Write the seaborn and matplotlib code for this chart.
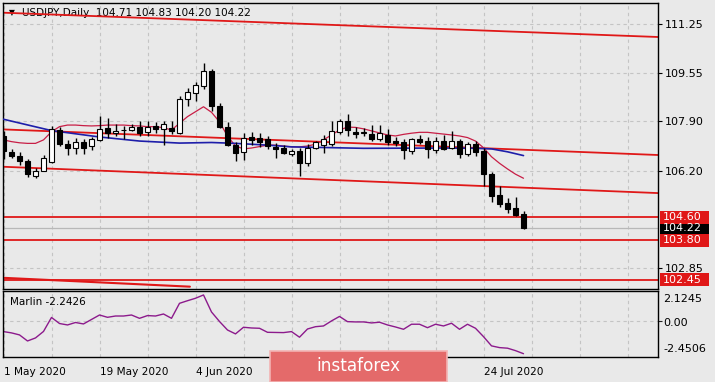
import numpy as np
import seaborn as sns
import matplotlib.pyplot as plt
import matplotlib.transforms as mtransforms
from matplotlib.patches import Rectangle

sns.set_style('white')
plt.rcParams['font.family'] = ['DejaVu Sans']

# daily USDJPY candles, 1 May 2020 .. 31 Jul 2020
opens = [107.40, 106.85, 106.70, 106.53, 106.01, 106.20, 106.50, 107.59, 107.13, 106.99,
         107.20, 107.05, 107.25, 107.68, 107.48, 107.59, 107.59, 107.71, 107.53, 107.74,
         107.63, 107.68, 107.51, 108.67, 108.88, 109.11, 109.62, 108.41, 107.72, 107.07,
         106.84, 107.36, 107.32, 107.28, 107.03, 106.99, 106.76, 106.875, 106.45, 106.99,
         107.07, 107.11, 107.53, 107.92, 107.53, 107.51, 107.455, 107.28, 107.42, 107.23,
         107.19, 106.875, 107.30, 107.22, 106.91, 107.22, 106.99, 107.22, 106.76, 107.11,
         106.88, 106.08, 105.36, 105.08, 104.91, 104.71]
highs = [107.57, 106.955, 106.85, 106.59, 106.295, 106.74, 107.74, 107.71, 107.26, 107.32,
         107.29, 107.36, 108.09, 108.03, 107.82, 107.74, 107.80, 107.92, 107.92, 107.88,
         107.92, 107.92, 108.78, 109.04, 109.25, 109.92, 109.71, 108.53, 107.86, 107.19,
         107.51, 107.53, 107.49, 107.40, 107.16, 107.07, 106.93, 106.99, 107.11, 107.23,
         107.42, 107.92, 107.98, 108.15, 107.72, 107.68, 107.77, 107.77, 107.65, 107.37,
         107.28, 107.34, 107.42, 107.37, 107.37, 107.42, 107.57, 107.28, 107.19, 107.22,
         106.97, 106.16, 105.68, 105.25, 105.30, 104.83]
lows = [106.60, 106.62, 106.39, 105.97, 105.95, 106.18, 106.47, 107.05, 106.73, 106.76,
        106.76, 106.90, 107.22, 107.34, 107.40, 107.28, 107.55, 107.40, 107.40, 107.49,
        107.07, 107.455, 107.455, 108.41, 108.61, 109.02, 108.26, 107.68, 107.05, 106.53,
        106.56, 107.07, 107.02, 106.93, 106.64, 106.76, 106.72, 106.03, 106.35, 106.93,
        106.82, 107.05, 107.455, 107.40, 107.34, 107.40, 107.22, 107.22, 107.07, 107.05,
        106.61, 106.76, 107.11, 106.64, 106.82, 106.91, 106.93, 106.64, 106.70, 106.70,
        105.68, 105.11, 104.96, 104.75, 104.64, 104.20]
closes = [106.875, 106.70, 106.55, 106.07, 106.20, 106.62, 107.63, 107.11, 106.99, 107.20,
          106.99, 107.29, 107.63, 107.51, 107.57, 107.60, 107.71, 107.51, 107.72, 107.65,
          107.80, 107.57, 108.67, 108.92, 109.16, 109.62, 108.41, 107.72, 107.07, 106.82,
          107.34, 107.26, 107.19, 107.05, 106.93, 106.82, 106.875, 106.47, 106.99, 107.19,
          107.28, 107.57, 107.92, 107.60, 107.455, 107.52, 107.28, 107.49, 107.19, 107.16,
          106.91, 107.28, 107.19, 106.93, 107.22, 106.955, 107.22, 106.76, 107.11, 106.84,
          106.08, 105.34, 105.04, 104.88, 104.67, 104.22]

# fast moving average (thin red)
ma_fast = [107.26, 107.20, 107.16, 107.14, 107.14, 107.26, 107.54, 107.715, 107.77, 107.77,
           107.75, 107.74, 107.75, 107.77, 107.77, 107.77, 107.75, 107.74, 107.715, 107.715,
           107.68, 107.60, 107.83, 108.06, 108.23, 108.40, 108.21, 107.88, 107.39, 107.05,
           106.95, 106.98, 107.03, 107.08, 107.08, 107.05, 107.02, 107.02, 107.05, 107.11,
           107.26, 107.43, 107.60, 107.70, 107.69, 107.64, 107.57, 107.50, 107.43, 107.395,
           107.45, 107.49, 107.52, 107.52, 107.49, 107.46, 107.43, 107.395, 107.34, 107.22,
           106.99, 106.68, 106.455, 106.26, 106.08, 105.94]

# slow moving average (blue)
ma_slow_idx = [0, 6, 12, 17, 22, 26, 29, 33, 36, 45, 55, 59, 61, 63, 65]
ma_slow = [107.97, 107.58, 107.36, 107.22, 107.15, 107.17, 107.14, 107.08, 107.02,
           106.97, 106.98, 106.97, 106.95, 106.85, 106.72]

# Marlin oscillator
marlin = [-0.71, -0.80, -0.94, -1.36, -1.15, -0.70, 0.27, -0.15, -0.25, -0.08,
          -0.18, 0.13, 0.44, 0.28, 0.37, 0.37, 0.44, 0.21, 0.40, 0.37,
          0.51, 0.21, 1.25, 1.43, 1.60, 1.83, 0.65, -0.01, -0.60, -0.87,
          -0.41, -0.46, -0.48, -0.76, -0.77, -0.78, -0.71, -1.10, -0.53, -0.37,
          -0.32, 0.03, 0.34, -0.02, -0.04, -0.04, -0.11, -0.06, -0.25, -0.39,
          -0.55, -0.20, -0.20, -0.44, -0.20, -0.32, -0.13, -0.55, -0.20, -0.48,
          -1.06, -1.70, -1.82, -1.86, -2.03, -2.2426]

# trend lines (bar index, price)
trend_x = [-0.44, 81.8]
trend_top = [111.64, 110.80]
trend_mid = [107.625, 106.74]
trend_low = [106.34, 105.43]
trend_bottom_x = [-0.44, 23.3]
trend_bottom = [102.52, 102.21]

levels = [104.60, 103.80, 102.45]
last_price = 104.22
price_ticks = [111.25, 109.55, 107.90, 106.20, 102.85]
marlin_ticks = [2.1245, 0.00, -2.4506]

# labels under the badge are hidden in the original
date_idx = [0, 12, 24, 60]
date_labels = ['1 May 2020', '19 May 2020', '4 Jun 2020', '24 Jul 2020']

BG = '#e9e9e9'
RED = '#e01818'
GRID = '#c4c4c4'
W, H = 715, 382

fig = plt.figure(figsize=(W / 100, H / 100), dpi=100, facecolor=BG)
ax = fig.add_axes([2.5 / W, 1 - 288.7 / H, 655.8 / W, 286.0 / H], facecolor=BG)
ax2 = fig.add_axes([2.5 / W, 1 - 356.7 / H, 655.8 / W, 66.0 / H], facecolor=BG)

n = len(closes)
idx = np.arange(n)
o = np.array(opens)
c = np.array(closes)

for a in (ax, ax2):
    a.set_xlim(-0.125, 81.85)
    for gx in range(0, 82, 6):
        a.axvline(gx, color=GRID, lw=0.8, ls=(0, (3, 3)), zorder=0)
    for s in a.spines.values():
        s.set_color('black')
        s.set_linewidth(1)

ax.set_ylim(102.14, 111.98)
for p in price_ticks:
    ax.axhline(p, color=GRID, lw=0.8, ls=(0, (3, 3)), zorder=0)

# title (the top trend line runs across it)
ax.text(6.5 / 655.8, 1 - 10 / 286.0, '\u25bc', transform=ax.transAxes, fontsize=5.5,
        va='center', ha='left', color='black', zorder=1)
ax.text(19.5 / 655.8, 1 - 10.5 / 286.0, 'USDJPY,Daily  104.71 104.83 104.20 104.22',
        transform=ax.transAxes, fontsize=7.5, va='center', ha='left', color='black', zorder=1)

# trend lines and levels
ax.plot(trend_x, trend_top, color=RED, lw=1.3, zorder=2)
ax.plot(trend_x, trend_mid, color=RED, lw=1.3, zorder=2)
ax.plot(trend_x, trend_low, color=RED, lw=1.3, zorder=2)
ax.plot(trend_bottom_x, trend_bottom, color=RED, lw=1.5, zorder=2)
for lv in levels:
    ax.axhline(lv, color=RED, lw=1.3, zorder=2)
ax.axhline(last_price, color='#b8b8b8', lw=0.9, zorder=1)

# moving averages
sns.lineplot(x=idx, y=ma_fast, ax=ax, color='#c81e46', lw=0.9, zorder=5, legend=False)
sns.lineplot(x=ma_slow_idx, y=ma_slow, ax=ax, color='#1e1eaa', lw=1.2, zorder=5, legend=False)

# candles
ax.vlines(idx, lows, highs, color='black', lw=1, zorder=6)
body_bottom = np.minimum(o, c)
body_h = np.maximum(np.abs(c - o), 0.012)
colors = np.where(c >= o, 'white', 'black')
ax.bar(idx, body_h, bottom=body_bottom, width=0.62, color=colors,
       edgecolor='black', linewidth=0.8, zorder=7)

ax.set_xticks([])
ax.yaxis.tick_right()
ax.set_yticks(price_ticks)
ax.set_yticklabels([f'{p:.2f}' for p in price_ticks])
ax.tick_params(axis='y', length=3, width=0.8, pad=2, labelsize=8, colors='black')
ax.set_xlabel('')
ax.set_ylabel('')

# price boxes on the right
bt = mtransforms.blended_transform_factory(ax.transAxes, ax.transData)
box_h = 13.3 / 29.05
for lv, fc in [(last_price, 'black'), (levels[2], RED), (levels[0], RED), (levels[1], RED)]:
    ax.add_patch(Rectangle((1.0026, lv - box_h / 2), 0.0747, box_h, transform=bt,
                           facecolor=fc, edgecolor='none', clip_on=False, zorder=10))
    ax.text(1.0072, lv, f'{lv:.2f}', transform=bt, color='white', fontsize=8,
            va='center', ha='left', zorder=11, clip_on=False)

# Marlin panel
ax2.set_ylim(-2.4506, 2.1245)
ax2.axhline(0, color=GRID, lw=0.8, ls=(0, (3, 3)), zorder=0)
sns.lineplot(x=idx, y=marlin, ax=ax2, color='#8c1a8c', lw=1.0, legend=False)
ax2.yaxis.tick_right()
ax2.set_yticks([0])
ax2.set_yticklabels([''])
ax2.tick_params(axis='y', length=3, width=0.8)
for ty, lab in zip([1 - 8.8 / 66, 1 - 32 / 66, 1 - 58.8 / 66], marlin_ticks):
    txt = f'{lab:.4f}' if lab != 0 else '0.00'
    ax2.text(1.0072, ty, txt, transform=ax2.transAxes, fontsize=8, va='center',
             ha='left', color='black', clip_on=False)
ax2.text(7 / 655.8, 1 - 11 / 66, 'Marlin -2.2426', transform=ax2.transAxes,
         fontsize=7.5, va='center', ha='left', color='black')
ax2.set_xticks(date_idx)
ax2.set_xticklabels(date_labels, ha='left')
ax2.tick_params(axis='x', length=3, width=0.8, pad=4.5, labelsize=7.6, colors='black')
ax2.set_xlabel('')
ax2.set_ylabel('')

# instaforex badge
fig.patches.append(Rectangle((270 / W, 0), 177 / W, 31 / H, transform=fig.transFigure,
                             facecolor='#e46a6a', edgecolor='#f3b3b3', lw=1.2, zorder=20))
fig.text(358 / W, 1 - 366 / H, 'instaforex', fontsize=12.2, color='white',
         ha='center', va='center', zorder=21)

fig.savefig('out.png', dpi=100, facecolor=BG)
